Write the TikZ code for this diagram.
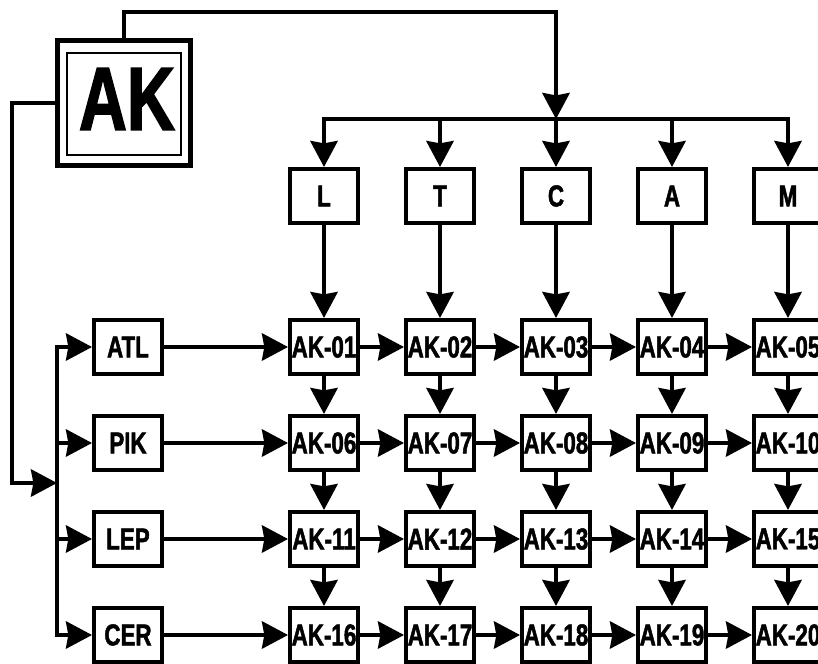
\documentclass[tikz,border=0pt]{standalone}
\usepackage{fontspec}
\newfontfamily\diagfont[FakeStretch=0.74, BoldFeatures={FakeBold=1.6}]{Liberation Sans}
\usetikzlibrary{arrows.meta}

\begin{document}
\begin{tikzpicture}[x=0.025cm, y=-0.025cm,
  every node/.style={font={\diagfont\bfseries\fontsize{21.5}{23}\selectfont}},
  cell/.style={draw, line width=1mm, minimum width=1.7cm, minimum height=1.35cm, inner sep=0pt},
  link/.style={line width=1mm, line cap=rect},
  arr/.style={link, -{Stealth[length=6.5mm, width=6.8mm, inset=0.6mm]}}]
  \useasboundingbox (0,0) rectangle (818,664);
  \clip (0,0) rectangle (818,664);

  % source box
  \node[draw, line width=0.5mm, minimum width=2.85cm, minimum height=2.55cm, inner sep=0pt] (ak) at (124,104) {};
  \node[font={\diagfont\bfseries\fontsize{64}{66}\selectfont}, inner sep=0pt] (akname) at (127,99) {AK};
  \node[draw, line width=1.25mm, minimum width=3.325cm, minimum height=3.125cm] (akframe) at (124,103) {};

  % column heads
  \node[cell] (l) at (324,196) {L};
  \node[cell] (t) at (440,196) {T};
  \node[cell] (c) at (556,196) {C};
  \node[cell] (a) at (672,196) {A};
  \node[cell] (m) at (788,196) {M};

  % row heads
  \node[cell] (atl) at (128,347) {ATL};
  \node[cell] (pik) at (128,443) {PIK};
  \node[cell] (lep) at (128,539) {LEP};
  \node[cell] (cer) at (128,635) {CER};

  % grid
  \node[cell] (a01) at (324,347) {AK-01};
  \node[cell] (a02) at (440,347) {AK-02};
  \node[cell] (a03) at (556,347) {AK-03};
  \node[cell] (a04) at (672,347) {AK-04};
  \node[cell] (a05) at (788,347) {AK-05};
  \node[cell] (a06) at (324,443) {AK-06};
  \node[cell] (a07) at (440,443) {AK-07};
  \node[cell] (a08) at (556,443) {AK-08};
  \node[cell] (a09) at (672,443) {AK-09};
  \node[cell] (a10) at (788,443) {AK-10};
  \node[cell] (a11) at (324,539) {AK-11};
  \node[cell] (a12) at (440,539) {AK-12};
  \node[cell] (a13) at (556,539) {AK-13};
  \node[cell] (a14) at (672,539) {AK-14};
  \node[cell] (a15) at (788,539) {AK-15};
  \node[cell] (a16) at (324,635) {AK-16};
  \node[cell] (a17) at (440,635) {AK-17};
  \node[cell] (a18) at (556,635) {AK-18};
  \node[cell] (a19) at (672,635) {AK-19};
  \node[cell] (a20) at (788,635) {AK-20};

  % top feed
  \coordinate (topturn) at (124,12);
  \coordinate (topbus) at (556,119);
  \draw[arr] (akframe.north) -- (topturn) -| (topbus);
  \draw[link] (l |- topbus) -- (m |- topbus);
  \draw[arr] (l |- topbus) -- (l);
  \draw[arr] (t |- topbus) -- (t);
  \draw[arr] (c |- topbus) -- (c);
  \draw[arr] (a |- topbus) -- (a);
  \draw[arr] (m |- topbus) -- (m);

  % left feed
  \coordinate (leftturn) at (12,483);
  \coordinate (leftbus) at (57,483);
  \draw[arr] (akframe.west) -| (leftturn) -- (leftbus);
  \draw[link] (atl -| leftbus) -- (cer -| leftbus);
  \draw[arr] (atl -| leftbus) -- (atl);
  \draw[arr] (pik -| leftbus) -- (pik);
  \draw[arr] (lep -| leftbus) -- (lep);
  \draw[arr] (cer -| leftbus) -- (cer);

  % heads into grid
  \draw[arr] (l) -- (a01);
  \draw[arr] (t) -- (a02);
  \draw[arr] (c) -- (a03);
  \draw[arr] (a) -- (a04);
  \draw[arr] (m) -- (a05);
  \draw[arr] (atl) -- (a01);
  \draw[arr] (pik) -- (a06);
  \draw[arr] (lep) -- (a11);
  \draw[arr] (cer) -- (a16);

  % across
  \draw[arr] (a01) -- (a02);
  \draw[arr] (a02) -- (a03);
  \draw[arr] (a03) -- (a04);
  \draw[arr] (a04) -- (a05);
  \draw[arr] (a06) -- (a07);
  \draw[arr] (a07) -- (a08);
  \draw[arr] (a08) -- (a09);
  \draw[arr] (a09) -- (a10);
  \draw[arr] (a11) -- (a12);
  \draw[arr] (a12) -- (a13);
  \draw[arr] (a13) -- (a14);
  \draw[arr] (a14) -- (a15);
  \draw[arr] (a16) -- (a17);
  \draw[arr] (a17) -- (a18);
  \draw[arr] (a18) -- (a19);
  \draw[arr] (a19) -- (a20);

  % down
  \draw[arr] (a01) -- (a06);
  \draw[arr] (a06) -- (a11);
  \draw[arr] (a11) -- (a16);
  \draw[arr] (a02) -- (a07);
  \draw[arr] (a07) -- (a12);
  \draw[arr] (a12) -- (a17);
  \draw[arr] (a03) -- (a08);
  \draw[arr] (a08) -- (a13);
  \draw[arr] (a13) -- (a18);
  \draw[arr] (a04) -- (a09);
  \draw[arr] (a09) -- (a14);
  \draw[arr] (a14) -- (a19);
  \draw[arr] (a05) -- (a10);
  \draw[arr] (a10) -- (a15);
  \draw[arr] (a15) -- (a20);
\end{tikzpicture}
\end{document}
